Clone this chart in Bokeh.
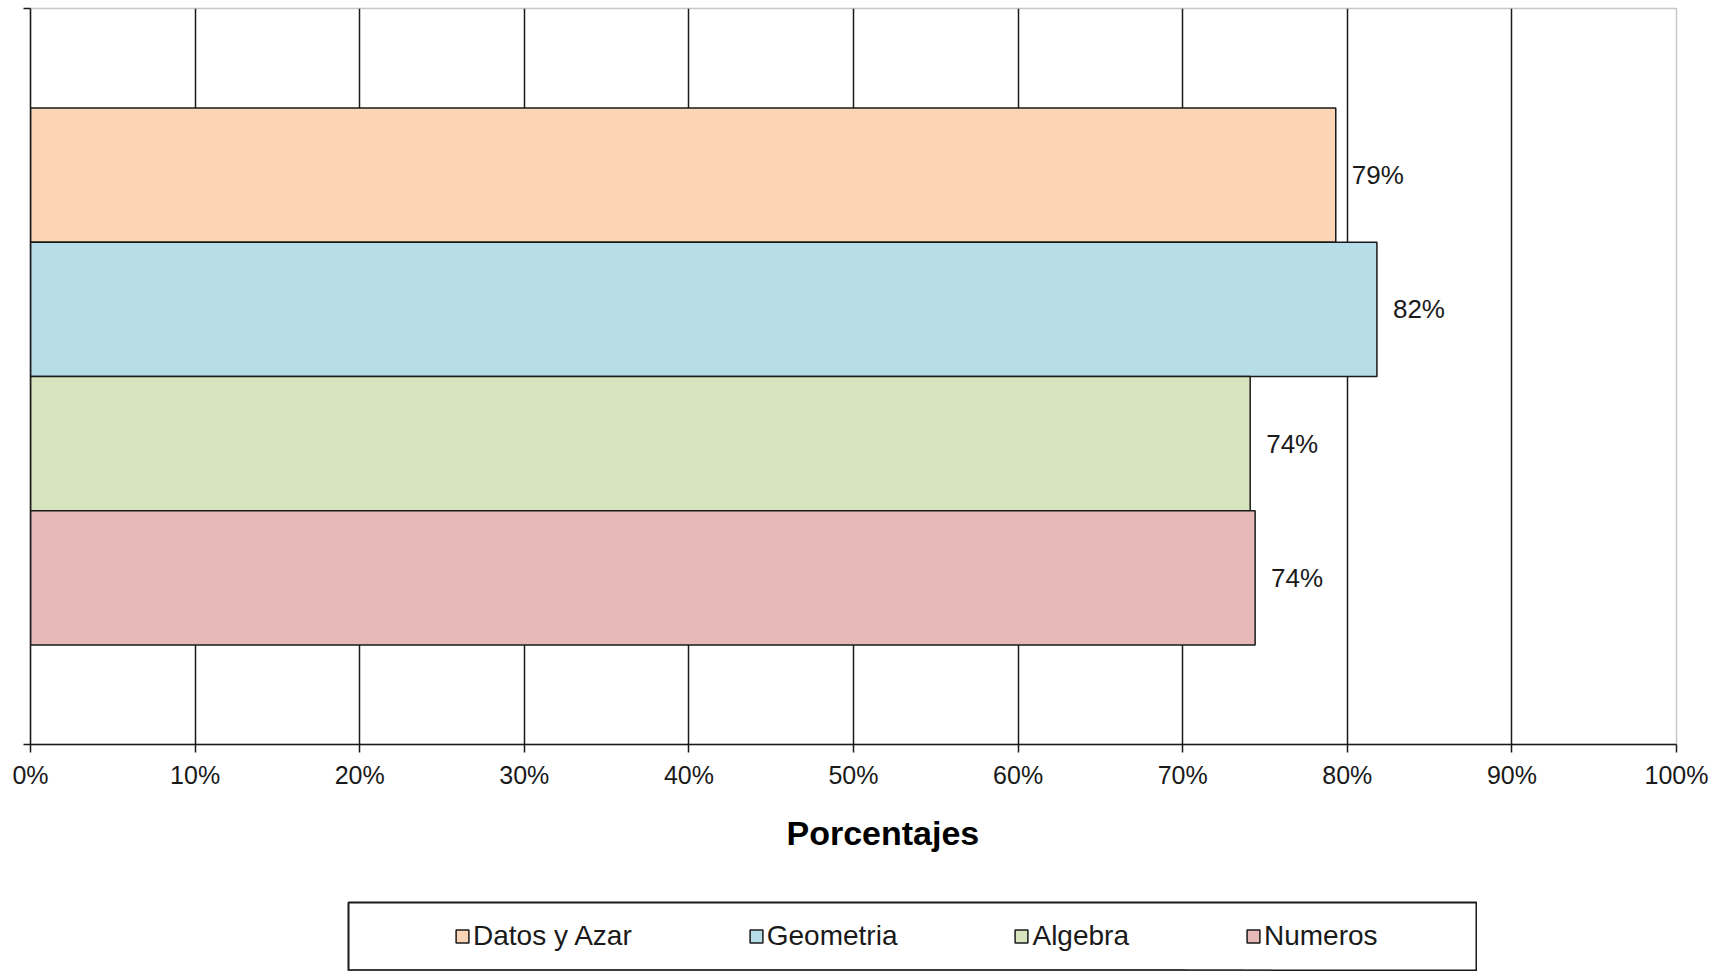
from bokeh.plotting import figure
from bokeh.models import (Range1d, FixedTicker, ColumnDataSource, Legend, LegendItem,
                          Spacer, PrintfTickFormatter, Title)
from bokeh.layouts import column, row
from bokeh.embed import file_html
from bokeh.resources import INLINE
from bokeh.core.properties import value

# ---- data ----
categories = ["Datos y Azar", "Geometria", "Algebra", "Numeros"]
percentages = [79.3, 81.8, 74.1, 74.4]
bar_colors = ["#FBD5B5", "#B7DDE8", "#D7E4BD", "#E6B9B8"]
x_ticks = [0, 10, 20, 30, 40, 50, 60, 70, 80, 90, 100]
x_tick_labels = ["0%", "10%", "20%", "30%", "40%", "50%", "60%", "70%", "80%", "90%", "100%"]
x_title = "Porcentajes"

FONT = value("Liberation Sans")
DARK = "#1a1a1a"

n = len(categories)
x_lo, x_hi = x_ticks[0], x_ticks[-1]
y_lo, y_hi = -0.74, n + 0.74
ypos = [n - i - 0.5 for i in range(n)]  # first category on top

p = figure(width=1710, height=901, x_range=Range1d(x_lo, x_hi), y_range=Range1d(y_lo, y_hi),
           output_backend="svg", toolbar_location=None,
           min_border_left=30, min_border_right=34, min_border_top=8, min_border_bottom=157)
p.background_fill_color = "white"
p.border_fill_color = "white"
p.outline_line_color = "#c8c8c8"
p.outline_line_width = 1.5

# grid
p.ygrid.visible = False
p.xgrid.ticker = FixedTicker(ticks=x_ticks[1:-1])
p.xgrid.grid_line_color = DARK
p.xgrid.grid_line_width = 1.5

for cat, v, c, y in zip(categories, percentages, bar_colors, ypos):
    src = ColumnDataSource(dict(y=[y], right=[v]))
    p.hbar(y="y", right="right", left=0, height=1.0, source=src,
           fill_color=c, line_color=DARK, line_width=1.5)

label_src = ColumnDataSource(dict(x=percentages, y=ypos,
                                  t=[f"{round(v)}%" for v in percentages]))
p.text(x="x", y="y", text="t", source=label_src, x_offset=16,
       text_font=FONT, text_font_size="26px", text_color=DARK,
       text_baseline="middle", text_align="left")

# x axis
xa = p.xaxis[0]
xa.ticker = FixedTicker(ticks=x_ticks)
xa.formatter = PrintfTickFormatter(format="%d%%")
xa.major_label_overrides = {t: l for t, l in zip(x_ticks, x_tick_labels)}
xa.axis_line_color = DARK
xa.axis_line_width = 1.5
xa.major_tick_line_color = DARK
xa.major_tick_line_width = 1.5
xa.major_tick_out = 8
xa.major_tick_in = 0
xa.minor_tick_line_color = None
xa.major_label_standoff = 8
xa.major_label_text_font = "Liberation Sans"
xa.major_label_text_font_size = "25px"
xa.major_label_text_color = DARK

# x axis title (slightly right of the plot centre, as in the reference)
p.add_layout(Title(text=x_title, align="left", offset=756, vertical_align="top",
                   standoff=44, text_font="Liberation Sans", text_font_size="34px",
                   text_font_style="bold", text_color="black"), "below")

# y axis (category axis without labels)
ya = p.yaxis[0]
ya.ticker = FixedTicker(ticks=[y_lo, y_hi])
ya.major_label_overrides = {y_lo: "", y_hi: ""}
ya.major_label_text_color = None
ya.major_label_standoff = 0
ya.axis_line_color = DARK
ya.axis_line_width = 1.5
ya.major_tick_line_color = DARK
ya.major_tick_line_width = 1.5
ya.major_tick_out = 7
ya.major_tick_in = 0
ya.minor_tick_line_color = None

# ---- legend box ----
p2 = figure(width=1130, height=70, x_range=Range1d(x_lo, x_hi), y_range=Range1d(n + 5, n + 6),
            output_backend="svg", toolbar_location=None, min_border=1,
            x_axis_location=None, y_axis_location=None)
p2.grid.visible = False
p2.outline_line_color = DARK
p2.outline_line_width = 2
p2.background_fill_color = "white"
p2.border_fill_color = "white"

items = []
for cat, v, c, y in zip(categories, percentages, bar_colors, ypos):
    src = ColumnDataSource(dict(y=[y], right=[v]))
    r = p2.hbar(y="y", right="right", left=0, height=1.0, source=src,
                fill_color=c, line_color=DARK, line_width=1.5)
    items.append(LegendItem(label=value(cat), renderers=[r]))

legend = Legend(items=items, orientation="horizontal", location=(106, 18),
                spacing=116, padding=0, margin=0, glyph_width=16, glyph_height=16,
                label_standoff=3, border_line_color=None, background_fill_alpha=0,
                label_text_font="Liberation Sans", label_text_font_size="28px",
                label_text_color=DARK)
p2.add_layout(legend, "center")

layout = column(p, row(Spacer(width=347, height=70), p2))

with open("out.html", "w") as f:
    f.write(file_html(layout, INLINE))
